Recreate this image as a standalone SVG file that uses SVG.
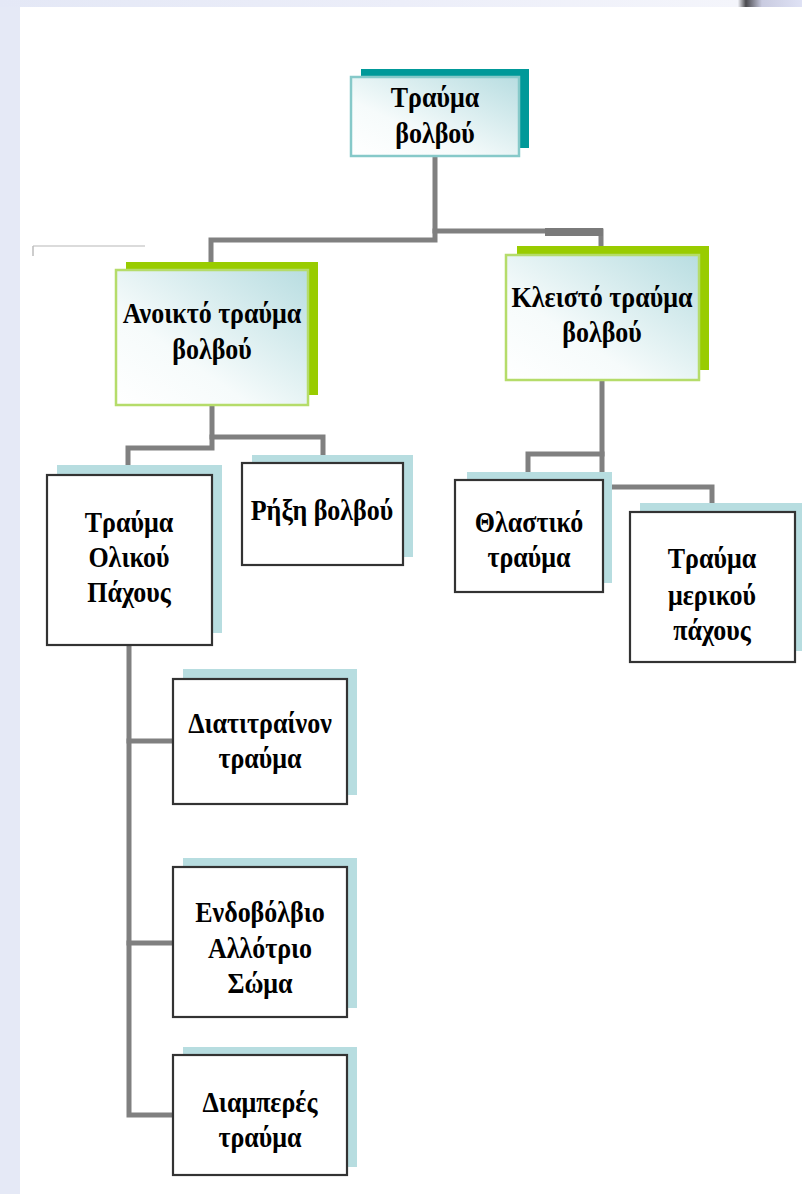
<svg xmlns="http://www.w3.org/2000/svg" width="802" height="1194" viewBox="0 0 802 1194">
<defs>
<linearGradient id="boxfill" x1="0" y1="1" x2="1" y2="0">
<stop offset="0" stop-color="#ffffff"/><stop offset="0.35" stop-color="#f6fbfb"/><stop offset="1" stop-color="#b8dde1"/>
</linearGradient>
<linearGradient id="topband" x1="0" y1="0" x2="1" y2="0">
<stop offset="0" stop-color="#e4e8f6"/><stop offset="0.5" stop-color="#eceef9"/><stop offset="0.92" stop-color="#f4f5fb"/><stop offset="0.93" stop-color="#4a4a4e"/><stop offset="0.95" stop-color="#c9cbe0"/><stop offset="1" stop-color="#dfe2f5"/>
</linearGradient>
<style>
.conn{fill:none;stroke:#808080;stroke-width:5;stroke-linejoin:miter;stroke-linecap:square}
.sh{fill:#b7dde0}
.shg{fill:#99cc00}
.sht{fill:#009999}
.bx{fill:#ffffff;stroke:#333333;stroke-width:2.2}
.gb{fill:url(#boxfill);stroke:#b5dc6a;stroke-width:2.5}
.tb{fill:url(#boxfill);stroke:#86c9c9;stroke-width:2.5}
.t{font-family:"Liberation Serif","Times New Roman",serif;font-weight:bold;font-size:26px;fill:#000000;text-anchor:middle}
</style>
</defs>
<rect x="0" y="0" width="802" height="1194" fill="#e5e9f6"/>
<rect x="0" y="0" width="802" height="7" fill="url(#topband)"/>
<rect x="20" y="7" width="782" height="1187" fill="#ffffff"/>
<line x1="33" y1="246" x2="145" y2="246" stroke="#cfcfcf" stroke-width="1.5"/>
<line x1="33" y1="246" x2="33" y2="256" stroke="#bdbdbd" stroke-width="1.5"/>

<g id="connectors">
<path class="conn" d="M435,156 V240 H211 V262"/>
<path class="conn" d="M435,231 H601 V248"/>
<rect x="545" y="228" width="58" height="8" fill="#7a7a7a"/>
<path class="conn" d="M212,405 V448 H128 V468"/>
<path class="conn" d="M212,437 H323 V458"/>
<path class="conn" d="M602,380 V487 H712 V506"/>
<path class="conn" d="M602,454 H528 V474"/>
<path class="conn" d="M129,645 V1115 H173"/>
<path class="conn" d="M129,741 H173"/>
<path class="conn" d="M129,943 H173"/>
</g>

<g id="n-root">
<rect class="sht" x="361" y="69" width="168" height="79"/>
<rect class="tb" x="351" y="77" width="168" height="79"/>
<text class="t" transform="translate(435,107) scale(1,1.15)">Τραύμα</text>
<text class="t" transform="translate(435,143) scale(1,1.15)">βολβού</text>
</g>

<g id="n-open">
<rect class="shg" x="126" y="262" width="192" height="133"/>
<rect class="gb" x="116" y="270" width="192" height="135"/>
<text class="t" transform="translate(212,323) scale(1,1.15)">Ανοικτό τραύμα</text>
<text class="t" transform="translate(212,359) scale(1,1.15)">βολβού</text>
</g>

<g id="n-closed">
<rect class="shg" x="517" y="246" width="192" height="124"/>
<rect class="gb" x="506" y="255" width="193" height="125"/>
<text class="t" transform="translate(602,307) scale(1,1.15)">Κλειστό τραύμα</text>
<text class="t" transform="translate(602,342) scale(1,1.15)">βολβού</text>
</g>

<g id="n-full">
<rect class="sh" x="57" y="465" width="165" height="168"/>
<rect class="bx" x="47" y="475" width="165" height="170"/>
<text class="t" transform="translate(129,532) scale(1,1.15)">Τραύμα</text>
<text class="t" transform="translate(129,567) scale(1,1.15)">Ολικού</text>
<text class="t" transform="translate(129,602) scale(1,1.15)">Πάχους</text>
</g>

<g id="n-rupture">
<rect class="sh" x="252" y="455" width="161" height="102"/>
<rect class="bx" x="242" y="463" width="161" height="102"/>
<text class="t" transform="translate(322,520) scale(1,1.15)">Ρήξη βολβού</text>
</g>

<g id="n-contusion">
<rect class="sh" x="467" y="472" width="145" height="111"/>
<rect class="bx" x="455" y="480" width="148" height="112"/>
<text class="t" transform="translate(529,532) scale(1,1.15)">Θλαστικό</text>
<text class="t" transform="translate(529,567) scale(1,1.15)">τραύμα</text>
</g>

<g id="n-partial">
<rect class="sh" x="640" y="503" width="162" height="148"/>
<rect class="bx" x="630" y="512" width="165" height="150"/>
<text class="t" transform="translate(712,568) scale(1,1.15)">Τραύμα</text>
<text class="t" transform="translate(712,605) scale(1,1.15)">μερικού</text>
<text class="t" transform="translate(712,640) scale(1,1.15)">πάχους</text>
</g>

<g id="n-penetrating">
<rect class="sh" x="183" y="669" width="174" height="126"/>
<rect class="bx" x="173" y="679" width="174" height="125"/>
<text class="t" transform="translate(260,733) scale(1,1.15)">Διατιτραίνον</text>
<text class="t" transform="translate(260,768) scale(1,1.15)">τραύμα</text>
</g>

<g id="n-iofb">
<rect class="sh" x="183" y="858" width="174" height="150"/>
<rect class="bx" x="173" y="867" width="174" height="150"/>
<text class="t" transform="translate(260,922) scale(1,1.15)">Ενδοβόλβιο</text>
<text class="t" transform="translate(260,958) scale(1,1.15)">Αλλότριο</text>
<text class="t" transform="translate(260,993) scale(1,1.15)">Σώμα</text>
</g>

<g id="n-perforating">
<rect class="sh" x="183" y="1047" width="174" height="120"/>
<rect class="bx" x="173" y="1055" width="174" height="120"/>
<text class="t" transform="translate(260,1112) scale(1,1.15)">Διαμπερές</text>
<text class="t" transform="translate(260,1147) scale(1,1.15)">τραύμα</text>
</g>
</svg>
